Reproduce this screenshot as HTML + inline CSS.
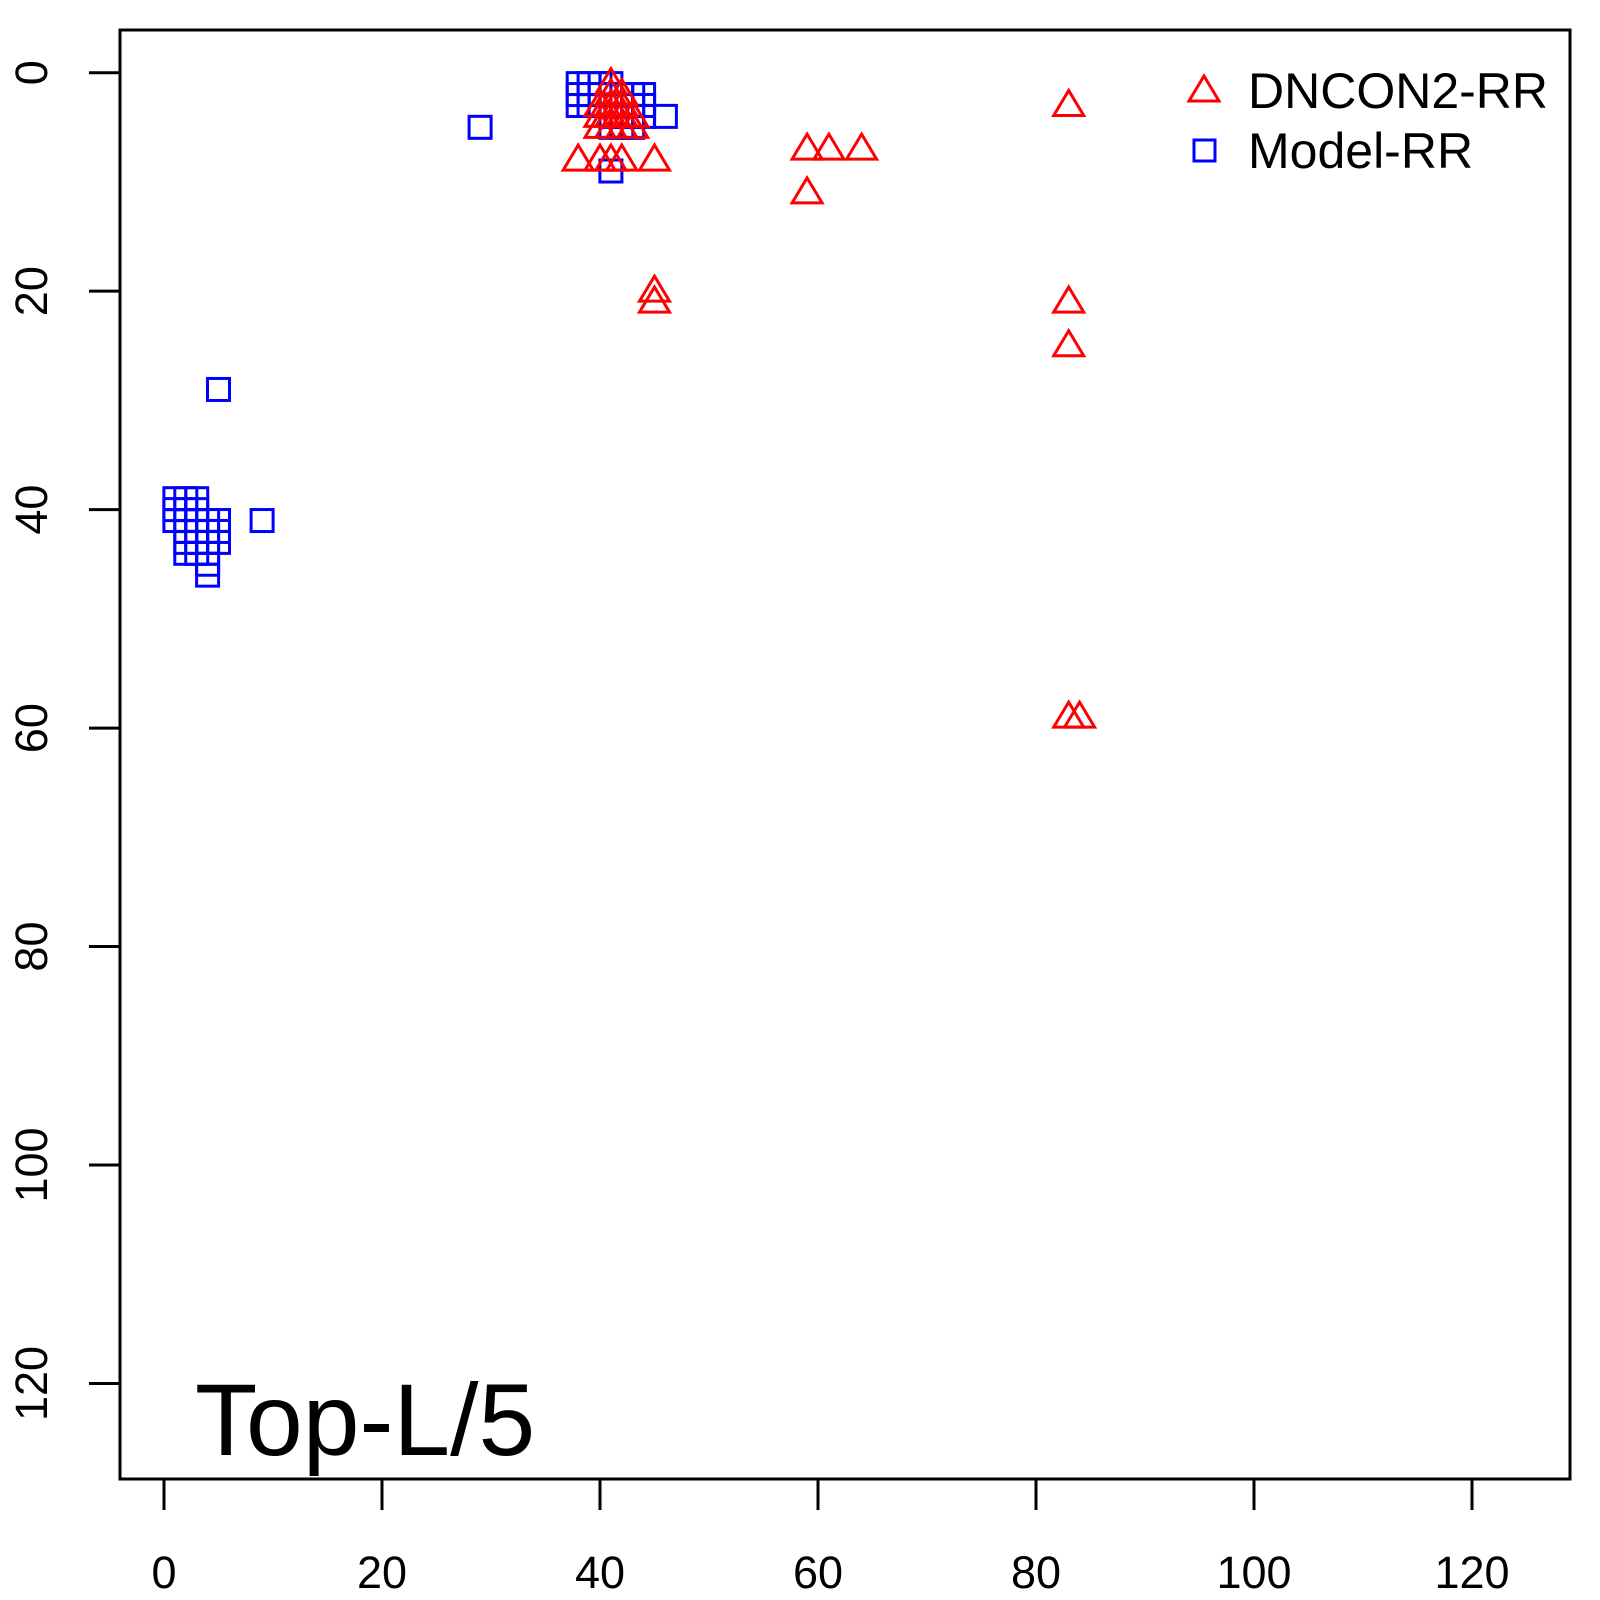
<!DOCTYPE html>
<html><head><meta charset="utf-8"><style>body{margin:0;background:#fff}svg{display:block}</style></head><body>
<svg xmlns="http://www.w3.org/2000/svg" width="1600" height="1600" viewBox="0 0 1600 1600" font-family="Liberation Sans, sans-serif">
<rect x="120" y="30" width="1450" height="1449" fill="none" stroke="#000" stroke-width="3"/>
<g stroke="#000" stroke-width="3">
<line x1="164" y1="1479" x2="1472" y2="1479"/>
<line x1="120" y1="72.7" x2="120" y2="1383.5"/>
</g>
<g id="ticks" stroke="#000" stroke-width="3"></g>
<g id="labels" font-size="45" fill="#000"></g>
<g id="pts" fill="none" stroke-width="3"></g>
<text x="195" y="1455" font-size="102">Top-L/5</text>
<polygon points="1204,76 1189,101 1219,101" fill="none" stroke="#f00" stroke-width="3"/>
<rect x="1194" y="140" width="21" height="21" fill="none" stroke="#00f" stroke-width="3"/>
<text x="1248" y="108" font-size="50">DNCON2-RR</text>
<text x="1248" y="168" font-size="50">Model-RR</text>
<script>
var ns="http://www.w3.org/2000/svg";
function X(v){return 164+v*10.9}function Y(v){return 72.7+v*10.923}
var t=document.getElementById('ticks'),l=document.getElementById('labels'),p=document.getElementById('pts');
function el(g,n,a,txt){var e=document.createElementNS(ns,n);for(var k in a)e.setAttribute(k,a[k]);if(txt!=null)e.textContent=txt;g.appendChild(e);return e}
for(var v=0;v<=120;v+=20){
el(t,'line',{x1:X(v),y1:1479,x2:X(v),y2:1510});
el(l,'text',{x:X(v),y:1588,'text-anchor':'middle'},v);
el(t,'line',{x1:89,y1:Y(v),x2:120,y2:Y(v)});
el(l,'text',{x:0,y:0,'text-anchor':'middle',transform:'translate(47,'+Y(v)+') rotate(-90)'},v);
}
var sq=[[1,39],[1,40],[1,41],[2,39],[2,40],[2,41],[2,42],[2,43],[2,44],[3,39],[3,40],[3,41],[3,42],[3,43],[3,44],[4,41],[4,42],[4,43],[4,44],[4,45],[4,46],[5,41],[5,42],[5,43],[9,41],[5,29],[29,5],
[38,1],[38,2],[38,3],[39,1],[39,2],[39,3],[40,1],[40,2],[40,3],[41,1],[41,2],[41,3],[42,2],[42,3],[42,4],[42,5],[43,2],[43,3],[43,4],[43,5],[44,2],[44,3],[44,4],[41,4],[41,5],[46,4],[41,9]];
sq.forEach(function(d){el(p,'rect',{x:X(d[0])-11,y:Y(d[1])-11,width:22,height:22,stroke:'#00f'})});
var tr=[[41,1],[41,2],[41,3],[41,4],[41,5],[40,3],[40,4],[40,5],[42,2],[42,3],[42,4],[42,5],[43,4],[43,5],[38,8],[40,8],[41,8],[42,8],[45,8],[45,20],[45,21],[59,7],[61,7],[64,7],[59,11],[83,3],[83,21],[83,25],[83,59],[84,59]];
tr.forEach(function(d){var x=X(d[0]),y=Y(d[1]);el(p,'polygon',{points:x+','+(y-15)+' '+(x-15)+','+(y+10)+' '+(x+15)+','+(y+10),stroke:'#f00'})});
</script>
</svg>
</body></html>
